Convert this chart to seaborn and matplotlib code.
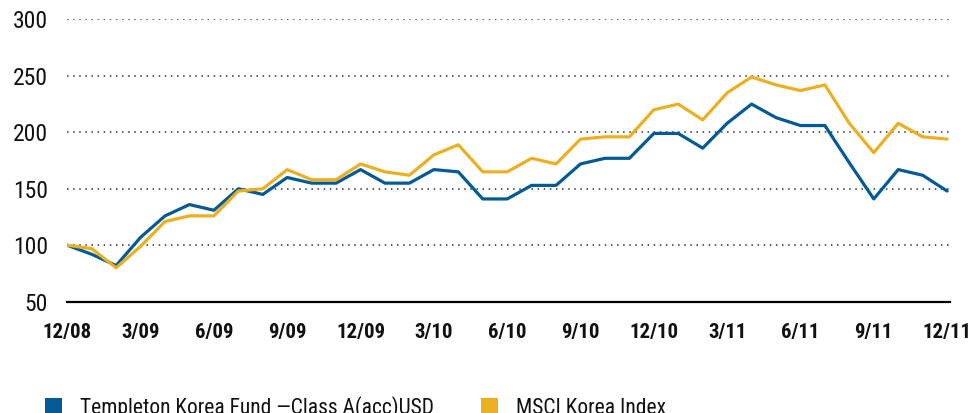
import pandas as pd
import seaborn as sns
import matplotlib.pyplot as plt
from matplotlib.patches import Patch

# monthly index values, 12/08 = 100
fund = [100, 92, 82, 107, 126, 136, 131, 150, 145, 160, 155, 155, 167, 155, 155, 167, 165, 141, 141,
        153, 153, 172, 177, 177, 199, 199, 186, 208, 225, 213, 206, 206, 173, 141, 167, 162, 148]
index = [100, 97, 80, 99, 121, 126, 126, 148, 150, 167, 158, 158, 172, 165, 162, 180, 189, 165, 165,
         177, 172, 194, 196, 196, 220, 225, 211, 235, 249, 242, 237, 242, 208, 182, 208, 196, 194]
tick_labels = ["12/08", "3/09", "6/09", "9/09", "12/09", "3/10", "6/10", "9/10", "12/10",
               "3/11", "6/11", "9/11", "12/11"]
y_ticks = [50, 100, 150, 200, 250, 300]
series_names = ["Templeton Korea Fund \u2014Class A(acc)USD", "MSCI Korea Index"]
colors = ["#045a94", "#ebb021"]

df = pd.DataFrame({
    "month": list(range(len(fund))) * 2,
    "value": fund + index,
    "series": [series_names[0]] * len(fund) + [series_names[1]] * len(index),
})

sns.set_style("white")
cond = ["Roboto Condensed", "Archivo Narrow", "Liberation Sans Narrow", "DejaVu Sans"]
plt.rcParams["font.family"] = cond

fig = plt.figure(figsize=(9.72, 4.13), dpi=100)
ax = fig.add_axes([0.0692, 0.2695, 0.9774 - 0.0692, 0.953 - 0.2695])

sns.lineplot(data=df, x="month", y="value", hue="series", palette=colors,
             linewidth=2.3, ax=ax, legend=False, zorder=3)

ax.set_xlim(0, 36.12)
ax.set_ylim(50, 300)
ax.set_xticks(range(0, 37, 3))
ax.set_xticklabels(tick_labels, fontsize=15, fontweight="bold", color="#111111")
ax.set_yticks(y_ticks)
ax.set_yticklabels([str(v) for v in y_ticks], fontsize=17, color="#111111")
ax.tick_params(axis="both", length=0)
ax.tick_params(axis="y", pad=14)
ax.tick_params(axis="x", pad=15)
ax.set_xlabel("")
ax.set_ylabel("")

for v in y_ticks[1:]:
    ax.axhline(v, color="#333333", linewidth=1.1, linestyle=(0, (1, 3)), zorder=1)

sns.despine(ax=ax, left=True)
ax.spines["bottom"].set_linewidth(1.6)
ax.spines["bottom"].set_color("black")

handles = [Patch(facecolor=c, edgecolor="none") for c in colors]
fig.legend(handles, series_names, loc="upper left", bbox_to_anchor=(0.046, 0.041),
           ncol=2, frameon=False, fontsize=15.5, handlelength=0.78, handleheight=0.78,
           handletextpad=0.85, columnspacing=2.2, borderpad=0, borderaxespad=0,
           labelcolor="#111111")

fig.savefig("out.png", dpi=100, facecolor="white")
